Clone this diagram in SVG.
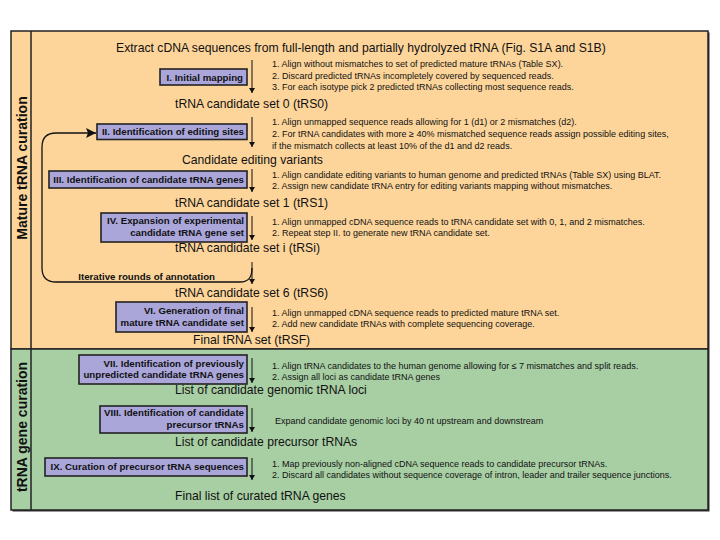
<svg xmlns="http://www.w3.org/2000/svg" width="720" height="540" viewBox="0 0 720 540">
<defs>
<style>
.big{font-family:"Liberation Sans",Arial,sans-serif;font-size:12.2px;fill:#111}
.note{font-family:"Liberation Sans",Arial,sans-serif;font-size:9px;fill:#111}
.bt{font-family:"Liberation Sans",Arial,sans-serif;font-size:9.7px;font-weight:bold;fill:#111;text-anchor:end}
.lab{font-family:"Liberation Sans",Arial,sans-serif;font-size:14px;font-weight:bold;fill:#111;text-anchor:middle}
.box{fill:#aaa6da;stroke:#222;stroke-width:1.6}
.arr{stroke:#111;stroke-width:1;fill:none;marker-end:url(#ah)}
</style>
<marker id="ah" markerUnits="userSpaceOnUse" markerWidth="6" markerHeight="7" refX="5" refY="3" orient="auto">
<path d="M0,0 L5,3 L0,6 z" fill="#111"/>
</marker>
<marker id="ahBig" markerUnits="userSpaceOnUse" markerWidth="12" markerHeight="12" refX="10" refY="5" orient="auto">
<path d="M0,0 L10,5 L0,10 L2,5 z" fill="#111"/>
</marker>
</defs>
<rect width="720" height="540" fill="#ffffff"/>
<g id="frame">
<rect x="12.5" y="32.5" width="697" height="479" fill="#333"/>
<rect x="11" y="31" width="697" height="318" fill="#fdd59b" stroke="#222" stroke-width="1.5"/>
<rect x="11" y="349" width="697" height="161" fill="#a8cea4" stroke="#222" stroke-width="1.5"/>
<line x1="31" y1="31" x2="31" y2="510" stroke="#222" stroke-width="1.5"/>
<text class="lab" transform="translate(26.5,168) rotate(-90)">Mature tRNA curation</text>
<text class="lab" transform="translate(26.5,427) rotate(-90)">tRNA gene curation</text>
</g>
<g id="connectors">
<line class="arr" x1="252" y1="60" x2="252" y2="93"/>
<line class="arr" x1="252" y1="117" x2="252" y2="147"/>
<line class="arr" x1="252" y1="169" x2="252" y2="192"/>
<line class="arr" x1="252" y1="216" x2="252" y2="240"/>
<line class="arr" x1="252" y1="262" x2="252" y2="284"/>
<line class="arr" x1="252" y1="307" x2="252" y2="332"/>
<line class="arr" x1="252" y1="358" x2="252" y2="383"/>
<line class="arr" x1="252" y1="408" x2="252" y2="432"/>
<line class="arr" x1="252" y1="458" x2="252" y2="480"/>
<path d="M252,268 C252,277 249,282 240,282 L56,282 Q42,282 42,268 L42,147 Q42,133 56,133 L96,133" fill="none" stroke="#111" stroke-width="1.3" marker-end="url(#ahBig)"/>
<text class="bt" x="215" y="279.5">Iterative rounds of annotation</text>
</g>
<g id="t-extract"><text class="big" x="116" y="52">Extract cDNA sequences from full-length and partially hydrolyzed tRNA (Fig. S1A and S1B)</text></g>
<g id="step1">
<rect class="box" x="160" y="69" width="87" height="16"/>
<text class="bt" x="243" y="80.5">I. Initial mapping</text>
<text class="note" x="272" y="67">1. Align without mismatches to set of predicted mature tRNAs (Table SX).</text>
<text class="note" x="272" y="78.5">2. Discard predicted tRNAs incompletely covered by sequenced reads.</text>
<text class="note" x="272" y="90">3. For each isotype pick 2 predicted tRNAs collecting most sequence reads.</text>
</g>
<g id="t-rs0"><text class="big" x="175" y="108">tRNA candidate set 0 (tRS0)</text></g>
<g id="step2">
<rect class="box" x="97" y="124" width="150" height="15.5"/>
<text class="bt" x="244" y="135.2">II. Identification of editing sites</text>
<text class="note" x="272" y="124.5">1. Align unmapped sequence reads allowing for 1 (d1) or 2 mismatches (d2).</text>
<text class="note" x="272" y="136.5">2. For tRNA candidates with more ≥ 40% mismatched sequence reads assign possible editing sites,</text>
<text class="note" x="272" y="148.5">if the mismatch collects at least 10% of the d1 and d2 reads.</text>
</g>
<g id="t-variants"><text class="big" x="182" y="164">Candidate editing variants</text></g>
<g id="step3">
<rect class="box" x="49" y="171" width="198" height="17"/>
<text class="bt" x="244" y="183">III. Identification of candidate tRNA genes</text>
<text class="note" x="272" y="177.5">1. Align candidate editing variants to human genome and predicted tRNAs (Table SX) using BLAT.</text>
<text class="note" x="272" y="189">2. Assign new candidate tRNA entry for editing variants mapping without mismatches.</text>
</g>
<g id="t-rs1"><text class="big" x="175" y="207">tRNA candidate set 1 (tRS1)</text></g>
<g id="step4">
<rect class="box" x="101" y="213" width="146" height="29"/>
<text class="bt" x="244" y="224">IV. Expansion of experimental</text>
<text class="bt" x="244" y="235.8">candidate tRNA gene set</text>
<text class="note" x="272" y="224.5">1. Align unmapped cDNA sequence reads to tRNA candidate set with 0, 1, and 2 mismatches.</text>
<text class="note" x="272" y="236">2. Repeat step II. to generate new tRNA candidate set.</text>
</g>
<g id="t-rsi"><text class="big" x="175" y="252">tRNA candidate set i (tRSi)</text></g>
<g id="t-rs6"><text class="big" x="175" y="297">tRNA candidate set 6 (tRS6)</text></g>
<g id="step6">
<rect class="box" x="116" y="302" width="131" height="30"/>
<text class="bt" x="244" y="314">VI. Generation of final</text>
<text class="bt" x="244" y="326.2">mature tRNA candidate set</text>
<text class="note" x="272" y="315.5">1. Align unmapped cDNA sequence reads to predicted mature tRNA set.</text>
<text class="note" x="272" y="327">2. Add new candidate tRNAs with complete sequencing coverage.</text>
</g>
<g id="t-rsf"><text class="big" x="193" y="344">Final tRNA set (tRSF)</text></g>
<g id="step7">
<rect class="box" x="79" y="355" width="168" height="29"/>
<text class="bt" x="244" y="366.5">VII. Identification of previously</text>
<text class="bt" x="244" y="378.3">unpredicted candidate tRNA genes</text>
<text class="note" x="272" y="368.5">1. Align tRNA candidates to the human genome allowing for ≤ 7 mismatches and split reads.</text>
<text class="note" x="272" y="380">2. Assign all loci as candidate tRNA genes</text>
</g>
<g id="t-loci"><text class="big" x="175" y="394">List of candidate genomic tRNA loci</text></g>
<g id="step8">
<rect class="box" x="100" y="406" width="147" height="27"/>
<text class="bt" x="244" y="416">VIII. Identification of candidate</text>
<text class="bt" x="244" y="427.5">precursor tRNAs</text>
<text class="note" x="275" y="424">Expand candidate genomic loci by 40 nt upstream and downstream</text>
</g>
<g id="t-precursor"><text class="big" x="175" y="446">List of candidate precursor tRNAs</text></g>
<g id="step9">
<rect class="box" x="45" y="458" width="202" height="18"/>
<text class="bt" x="244" y="470.3">IX. Curation of precursor tRNA sequences</text>
<text class="note" x="272" y="466.5">1. Map previously non-aligned cDNA sequence reads to candidate precursor tRNAs.</text>
<text class="note" x="272" y="478">2. Discard all candidates without sequence coverage of intron, leader and trailer sequence junctions.</text>
</g>
<g id="t-final"><text class="big" x="175" y="500">Final list of curated tRNA genes</text></g>
</svg>
